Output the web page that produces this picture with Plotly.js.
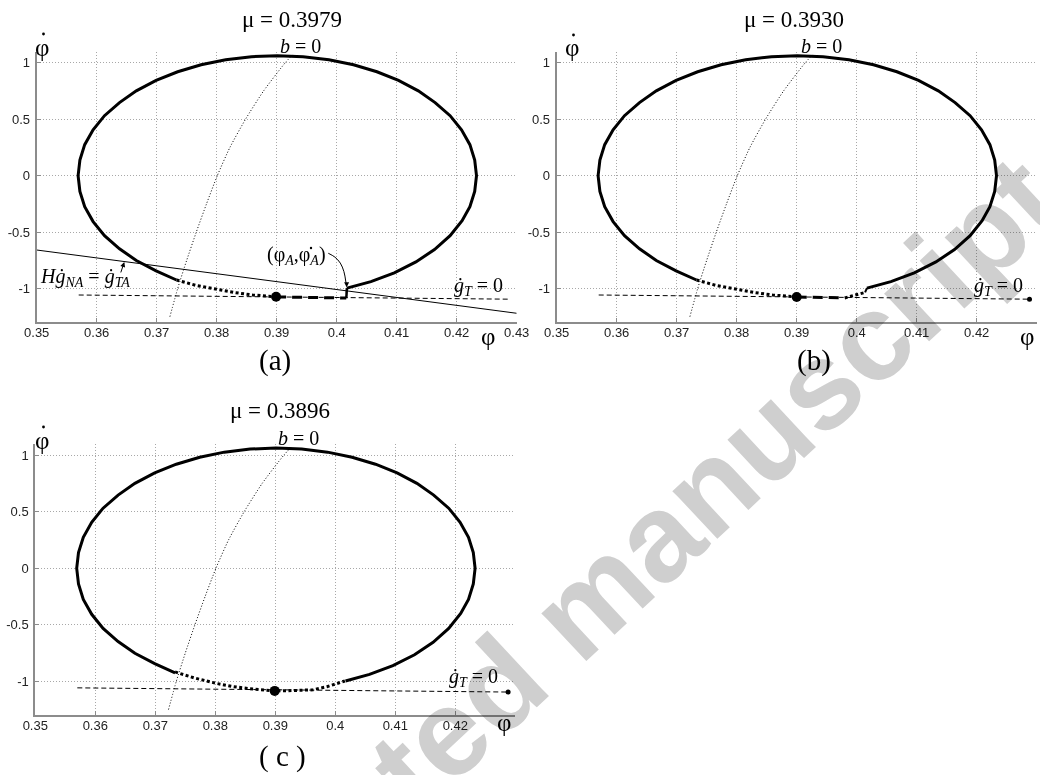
<!DOCTYPE html>
<html>
<head>
<meta charset="utf-8">
<script src="https://cdn.plot.ly/plotly-3.0.1.min.js"></script>
<style>
  html, body { margin: 0; padding: 0; background: #fff; }
  #chart { width: 1040px; height: 775px; }
</style>
</head>
<body>
<div id="chart"></div>
<script>
// Friction coefficient of each case
const muLabels = ['0.3979', '0.3930', '0.3896'];
const panelLetters = ['(a)', '(b)', '( c )'];

// Closed orbit in the (φ, φ̇) plane, drawn solid
const orbitPhi  = [0.4017, 0.4057, 0.4096, 0.4132, 0.4163, 0.4189, 0.4209, 0.4222, 0.4230, 0.4233,
                   0.4230, 0.4222, 0.4208, 0.4189, 0.4164, 0.4136, 0.4103, 0.4067, 0.4028, 0.3987,
                   0.3944, 0.3901, 0.3858, 0.3815, 0.3774, 0.3735, 0.3699, 0.3666, 0.3638, 0.3613,
                   0.3594, 0.3580, 0.3572, 0.3569, 0.3572, 0.3580, 0.3594, 0.3613, 0.3638, 0.3666,
                   0.3699, 0.3733];
const orbitRate = [-0.997, -0.939, -0.861, -0.765, -0.655, -0.532, -0.399, -0.275, -0.139, 0.000,
                   0.139, 0.275, 0.407, 0.532, 0.648, 0.752, 0.844, 0.921, 0.983, 1.028,
                   1.055, 1.064, 1.055, 1.028, 0.983, 0.921, 0.844, 0.752, 0.648, 0.532,
                   0.407, 0.275, 0.139, 0.000, -0.139, -0.275, -0.407, -0.532, -0.648, -0.752,
                   -0.844, -0.925];

// Curve b = 0
const bZeroPhi  = [0.3722, 0.3735, 0.3750, 0.3766, 0.3783, 0.3801, 0.3822, 0.3848, 0.3878, 0.3914, 0.3928];
const bZeroRate = [-1.25, -1.00, -0.75, -0.50, -0.25, 0.00, 0.25, 0.50, 0.75, 1.00, 1.08];

// Line H·ġ_NA = ġ_TA (case a)
const contactPhi  = [0.35, 0.43];
const contactRate = [-0.659, -1.220];

// Line ġ_T = 0
const stickPhi  = [0.357, 0.4288];
const stickRate = [-1.058, -1.095];

// Case (a): sliding part (dotted), sticking part (dashed), jump back to the orbit
const slideAPhi  = [0.3733, 0.3765, 0.3801, 0.3830, 0.3860, 0.3899];
const slideARate = [-0.925, -0.972, -1.008, -1.036, -1.058, -1.074];
const stickAPhi  = [0.3899, 0.3950, 0.4010, 0.4016];
const stickARate = [-1.075, -1.079, -1.084, -1.085];
const jumpAPhi   = [0.4016, 0.4017];
const jumpARate  = [-1.085, -0.997];
const pointAPhi  = [0.3899];
const pointARate = [-1.074];

// Case (b)
const slideBPhi   = [0.3733, 0.3765, 0.3801, 0.3830, 0.3860, 0.3900];
const slideBRate  = [-0.925, -0.972, -1.008, -1.036, -1.058, -1.075];
const stickBPhi   = [0.3900, 0.3940, 0.3980];
const stickBRate  = [-1.075, -1.080, -1.084];
const slideB2Phi  = [0.3980, 0.3995, 0.4006, 0.4014];
const slideB2Rate = [-1.084, -1.062, -1.042, -1.035];
const jumpBPhi    = [0.4014, 0.4017];
const jumpBRate   = [-1.035, -0.997];
const pointBPhi   = [0.3900];
const pointBRate  = [-1.075];

// Case (c)
const slideCPhi  = [0.3733, 0.3765, 0.3803, 0.3830, 0.3858, 0.3899, 0.3930, 0.3963, 0.3986, 0.4008, 0.4016];
const slideCRate = [-0.917, -0.970, -1.020, -1.047, -1.066, -1.085, -1.082, -1.075, -1.048, -1.013, -0.997];
const pointCPhi  = [0.3899];
const pointCRate = [-1.085];

// Leader curve for the (φ_A, φ̇_A) label
const leaderPhi  = [0.3986, 0.3997, 0.4006, 0.4012, 0.40155];
const leaderRate = [-0.688, -0.722, -0.775, -0.850, -0.950];

// Tick labels
const xTickVals = [0.35, 0.36, 0.37, 0.38, 0.39, 0.40, 0.41, 0.42, 0.43];
const xTickText = ['0.35', '0.36', '0.37', '0.38', '0.39', '0.4', '0.41', '0.42', '0.43'];
const yTickVals = [-1, -0.5, 0, 0.5, 1];
const yTickText = ['-1', '-0.5', '0', '0.5', '1'];

const W = 1040, H = 775;
const px = v => v / W;
const py = v => 1 - v / H;

const SERIF = 'Liberation Serif, Times New Roman, serif';
const SANS = 'Liberation Sans, Arial, sans-serif';

function line(xs, ys, ax, style) {
  return {
    type: 'scatter', mode: 'lines', x: xs, y: ys,
    xaxis: ax[0], yaxis: ax[1], hoverinfo: 'skip', line: style
  };
}
function dot(xs, ys, ax, size) {
  return {
    type: 'scatter', mode: 'markers', x: xs, y: ys, xaxis: ax[0], yaxis: ax[1],
    hoverinfo: 'skip', cliponaxis: false, marker: { color: '#000', size: size }
  };
}

const A = ['x', 'y'], B = ['x2', 'y2'], C = ['x3', 'y3'];
const thin = { color: '#000', width: 1 };
const solid = { color: '#000', width: 3 };
const thickDot = { color: '#000', width: 3, dash: '3px,2.5px' };
const thickDash = { color: '#000', width: 3, dash: '10px,6px' };
const thinDash = { color: '#000', width: 1, dash: '5px,3px' };
const fineDot = { color: '#000', width: 1, dash: '1px,2px', shape: 'spline', smoothing: 0.6 };

const last = arr => [arr[arr.length - 1]];

const traces = [
  // (a)
  line(contactPhi, contactRate, A, thin),
  line(stickPhi, stickRate, A, thinDash),
  line(bZeroPhi, bZeroRate, A, fineDot),
  line(orbitPhi, orbitRate, A, solid),
  line(slideAPhi, slideARate, A, thickDot),
  line(stickAPhi, stickARate, A, thickDash),
  line(jumpAPhi, jumpARate, A, { color: '#000', width: 2.5 }),
  line(leaderPhi, leaderRate, A, { color: '#000', width: 1, shape: 'spline' }),
  dot(pointAPhi, pointARate, A, 10),
  // (b)
  line(stickPhi, stickRate, B, thinDash),
  dot(last(stickPhi), last(stickRate), B, 5),
  line(bZeroPhi, bZeroRate, B, fineDot),
  line(orbitPhi, orbitRate, B, solid),
  line(slideBPhi, slideBRate, B, thickDot),
  line(stickBPhi, stickBRate, B, thickDash),
  line(slideB2Phi, slideB2Rate, B, thickDot),
  line(jumpBPhi, jumpBRate, B, { color: '#000', width: 2 }),
  dot(pointBPhi, pointBRate, B, 10),
  // (c)
  line(stickPhi, stickRate, C, thinDash),
  dot(last(stickPhi), last(stickRate), C, 5),
  line(bZeroPhi, bZeroRate, C, fineDot),
  line(orbitPhi, orbitRate, C, solid),
  line(slideCPhi, slideCRate, C, thickDot),
  dot(pointCPhi, pointCRate, C, 10)
];

function xAxis(domain, anchor, withLast) {
  const n = withLast ? xTickVals.length : xTickVals.length - 1;
  return {
    domain: domain, anchor: anchor, range: [0.35, 0.43], fixedrange: true,
    tickmode: 'array', tickvals: xTickVals.slice(0, n), ticktext: xTickText.slice(0, n),
    showline: true, linecolor: '#8c8c8c', linewidth: 2,
    ticks: 'inside', ticklen: 4, tickwidth: 1, tickcolor: '#8c8c8c',
    showgrid: true, gridcolor: '#a8a8a8', gridwidth: 1, griddash: '1px,2px',
    zeroline: false, tickfont: { family: SANS, size: 13, color: '#222' },
    ticklabelstandoff: -3
  };
}
function yAxis(domain, anchor) {
  return {
    domain: domain, anchor: anchor, range: [-1.3, 1.1], fixedrange: true,
    tickmode: 'array', tickvals: yTickVals, ticktext: yTickText,
    showline: true, linecolor: '#8c8c8c', linewidth: 2,
    ticks: 'inside', ticklen: 4, tickwidth: 1, tickcolor: '#8c8c8c',
    showgrid: true, gridcolor: '#a8a8a8', gridwidth: 1, griddash: '1px,2px',
    zeroline: false, tickfont: { family: SANS, size: 13, color: '#222' },
    ticklabelstandoff: 2
  };
}

function paperText(x, y, text, size) {
  return { xref: 'paper', yref: 'paper', x: px(x), y: py(y), text: text, showarrow: false,
           xanchor: 'center', yanchor: 'middle', font: { family: SERIF, size: size, color: '#000' } };
}
function dataText(xr, yr, x, y, text, size) {
  return { xref: xr, yref: yr, x: x, y: y, text: text, showarrow: false,
           xanchor: 'center', yanchor: 'middle', font: { family: SERIF, size: size, color: '#000' } };
}

const annotations = [
  // watermark
  { xref: 'paper', yref: 'paper', x: px(578), y: py(610), text: '<b>Accepted manuscript</b>',
    textangle: -43, showarrow: false, xanchor: 'center', yanchor: 'middle',
    font: { family: SANS, size: 124, color: '#cfcfcf' } },

  // titles
  paperText(292, 19, 'μ = ' + muLabels[0], 23),
  paperText(794, 19, 'μ = ' + muLabels[1], 23),
  paperText(280, 411, 'μ = ' + muLabels[2], 23),

  // axis labels (the dot over the vertical-axis φ is a small circle shape)
  paperText(42, 47, 'φ', 25),
  paperText(572, 48, 'φ', 25),
  paperText(42, 440, 'φ', 25),
  paperText(488, 336, 'φ', 25),
  paperText(1027, 336, 'φ', 25),
  paperText(504, 722, 'φ', 25),

  // panel letters
  paperText(275, 360, panelLetters[0], 29),
  paperText(814, 360, panelLetters[1], 29),
  paperText(282, 756, panelLetters[2], 29),

  // curve labels
  paperText(300, 46, '<i>b</i> = 0', 20),
  paperText(821, 46, '<i>b</i> = 0', 20),
  paperText(298, 438, '<i>b</i> = 0', 20),
  dataText('x', 'y', 0.4236, -0.985, '<i>ġ</i><sub><i>T</i></sub> = 0', 20),
  dataText('x2', 'y2', 0.4237, -0.985, '<i>ġ</i><sub><i>T</i></sub> = 0', 20),
  dataText('x3', 'y3', 0.4231, -0.970, '<i>ġ</i><sub><i>T</i></sub> = 0', 20),
  dataText('x', 'y', 0.3581, -0.905, '<i>H</i><i>ġ</i><sub><i>NA</i></sub> = <i>ġ</i><sub><i>TA</i></sub>', 20),
  dataText('x', 'y', 0.3933, -0.705, '(φ<sub><i>A</i></sub>,φ<sub><i>A</i></sub>)', 20),

  // arrow heads
  { xref: 'x', yref: 'y', x: 0.40165, y: -0.99, text: '', showarrow: true,
    ax: 0, ay: -6, arrowhead: 2, arrowsize: 1, arrowwidth: 1, arrowcolor: '#000' },
  { xref: 'x', yref: 'y', x: 0.3646, y: -0.765, text: '', showarrow: true,
    ax: -4, ay: 12, arrowhead: 2, arrowsize: 1, arrowwidth: 1, arrowcolor: '#000' }
];

// time-derivative dots placed over φ
function overDot(x, y, r) {
  return { type: 'circle', xref: 'paper', yref: 'paper',
           x0: px(x - r), x1: px(x + r), y0: py(y + r), y1: py(y - r),
           fillcolor: '#000', line: { width: 0 } };
}
const shapes = [
  overDot(43.5, 34, 1.4),
  overDot(573.5, 35, 1.4),
  overDot(43.5, 427, 1.4),
  overDot(311, 248, 1.2)
];

const layout = {
  width: W, height: H,
  margin: { l: 0, r: 0, t: 0, b: 0 },
  paper_bgcolor: '#fff', plot_bgcolor: '#fff',
  showlegend: false,
  xaxis:  xAxis([px(36.7), px(516.7)], 'y', true),
  yaxis:  yAxis([py(322.3), py(51.6)], 'x'),
  xaxis2: xAxis([px(556.7), px(1036.7)], 'y2', false),
  yaxis2: yAxis([py(322.3), py(51.6)], 'x2'),
  xaxis3: xAxis([px(35.3), px(515.3)], 'y3', false),
  yaxis3: yAxis([py(715.2), py(444.0)], 'x3'),
  annotations: annotations,
  shapes: shapes
};

Plotly.newPlot('chart', traces, layout, { staticPlot: true, displayModeBar: false }).then(() => {
  // let the watermark sit underneath the plotted curves
  const svgs = document.querySelectorAll('#chart .main-svg');
  if (svgs.length > 1) svgs[1].style.mixBlendMode = 'multiply';
});
</script>
</body>
</html>
